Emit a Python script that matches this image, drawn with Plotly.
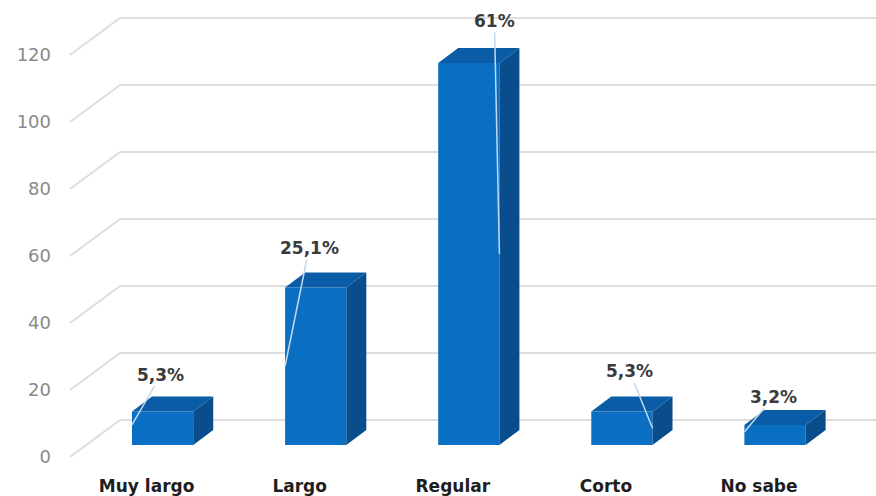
import plotly.graph_objects as go

# ---- data ----
CATEGORIES = ["Muy largo", "Largo", "Regular", "Corto", "No sabe"]
COUNTS = [10, 47, 114, 10, 6]
PERCENTS = [5.3, 25.1, 61, 5.3, 3.2]
Y_TICKS = [0, 20, 40, 60, 80, 100, 120]

# ---- layout constants (pixels) ----
W, H = 876, 496
ML, MB = 52, 39
PLOT_W, PLOT_H = W - ML, H - MB
PPU = 3.35           # pixels per value unit
PPX = 153.1          # pixels per category
FIRST_CAT_PX = 146.6  # front-plane x of first category
BAR_SHIFT = (16, 12)  # bar plane offset from front plane (right, up)
DEPTH = (20, 15)      # bar depth (right, up)
BACK = (50, 37)       # back wall offset from front plane
BAR_W = 0.4

FRONT = "#0A6FC2"
TOP = "#0B5CA6"
SIDE = "#0A4D8C"
GRID = "#dedede"

x0 = -(FIRST_CAT_PX - ML) / PPX
x1 = x0 + PLOT_W / PPX
y0, y1 = 0, PLOT_H / PPU
sx = BAR_SHIFT[0] / PPX
sy = BAR_SHIFT[1] / PPU
dx = DEPTH[0] / PPX
dy = DEPTH[1] / PPU

idx = list(range(len(CATEGORIES)))

fig = go.Figure()

# front faces
fig.add_trace(go.Bar(x=idx, y=COUNTS, width=BAR_W, marker=dict(color=FRONT, line=dict(width=0)),
                     xaxis="x2", yaxis="y2", hoverinfo="skip"))

# side and top faces
sxs, sys_, txs, tys = [], [], [], []
for i, v in zip(idx, COUNTS):
    l, r = i - BAR_W / 2, i + BAR_W / 2
    sxs += [r, r + dx, r + dx, r, r, None]
    sys_ += [0, dy, v + dy, v, 0, None]
    txs += [l, l + dx, r + dx, r, l, None]
    tys += [v, v + dy, v + dy, v, v, None]
fig.add_trace(go.Scatter(x=sxs, y=sys_, fill="toself", fillcolor=SIDE, mode="lines",
                         line=dict(width=0, color=SIDE), xaxis="x2", yaxis="y2", hoverinfo="skip"))
fig.add_trace(go.Scatter(x=txs, y=tys, fill="toself", fillcolor=TOP, mode="lines",
                         line=dict(width=0, color=TOP), xaxis="x2", yaxis="y2", hoverinfo="skip"))

# back wall gridlines and diagonals
shapes = []
for t in Y_TICKS:
    shapes.append(dict(type="line", layer="below", xref="paper", x0=(120 - ML) / PLOT_W, x1=1,
                       yref="y", ysizemode="pixel", yanchor=t, y0=BACK[1], y1=BACK[1],
                       line=dict(color=GRID, width=2)))
    shapes.append(dict(type="line", layer="below", xref="paper", xsizemode="pixel",
                       xanchor=(70 - ML) / PLOT_W, x0=0, x1=BACK[0],
                       yref="y", ysizemode="pixel", yanchor=t, y0=0, y1=BACK[1],
                       line=dict(color=GRID, width=2)))

# data labels with leader lines
LEADER_SIDE = [-1, -1, 1, 1, -1]
LEADER_FRAC = [0.6, 0.5, 0.5, 0.5, 0.65]
LABEL_OFFSET = [(29, -50), (24, -118), (-5, -233), (-23, -57), (29, -35)]
annotations = []
for i, v, p, sd, fr, (ax, ay) in zip(idx, COUNTS, PERCENTS, LEADER_SIDE, LEADER_FRAC, LABEL_OFFSET):
    txt = (f"{p:g}".replace(".", ",")) + "%"
    annotations.append(dict(x=i + sd * BAR_W / 2, y=v * fr, xref="x2", yref="y2",
                            text=txt, showarrow=True, arrowhead=0, arrowwidth=1.5,
                            arrowcolor="#c3d8ee", ax=ax, ay=ay, standoff=0,
                            font=dict(family="DejaVu Sans", size=17, color="#3a3a3a", weight="bold")))

fig.update_layout(
    width=W, height=H, margin=dict(l=ML, r=0, t=0, b=MB),
    paper_bgcolor="white", plot_bgcolor="white", showlegend=False,
    shapes=shapes, annotations=annotations,
    xaxis=dict(range=[x0, x1], tickvals=idx, ticktext=CATEGORIES, showgrid=False, zeroline=False,
               showline=False, ticks="outside", ticklen=14, tickcolor="rgba(0,0,0,0)",
               tickfont=dict(family="DejaVu Sans", size=17, color="#1e1e1e", weight="bold"),
               fixedrange=True),
    yaxis=dict(range=[y0, y1], tickvals=Y_TICKS, showgrid=False, zeroline=False, showline=False,
               tickfont=dict(family="DejaVu Sans", size=18, color="#8a8a8a"), fixedrange=True),
    xaxis2=dict(range=[x0 - sx, x1 - sx], overlaying="x", visible=False, fixedrange=True),
    yaxis2=dict(range=[y0 - sy, y1 - sy], overlaying="y", visible=False, fixedrange=True),
)

fig.write_html("out.html")
